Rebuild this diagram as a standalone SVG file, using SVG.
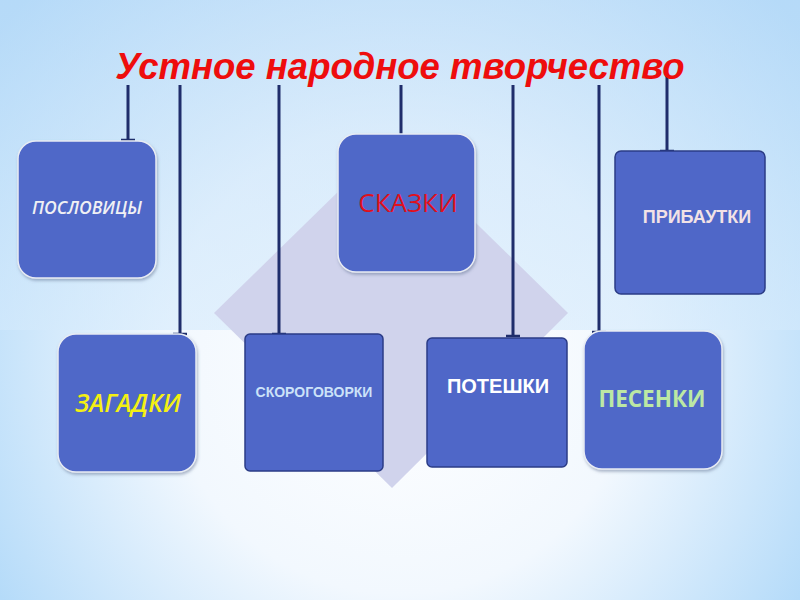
<svg xmlns="http://www.w3.org/2000/svg" width="800" height="600" viewBox="0 0 800 600">
<defs>
<radialGradient id="bg" cx="400" cy="360" r="520" gradientUnits="userSpaceOnUse">
<stop offset="0" stop-color="#ffffff"/>
<stop offset="0.45" stop-color="#f2f8fe"/>
<stop offset="1" stop-color="#a6d4f8"/>
</radialGradient>
<linearGradient id="band" x1="0" y1="0" x2="0" y2="1">
<stop offset="0" stop-color="#c0def8" stop-opacity="0.6"/>
<stop offset="1" stop-color="#d4eafc" stop-opacity="0.6"/>
</linearGradient>
<filter id="sh" x="-10%" y="-10%" width="120%" height="120%">
<feDropShadow dx="1" dy="2" stdDeviation="1.5" flood-color="#607090" flood-opacity="0.5"/>
</filter>
</defs>
<style>
.round{fill:#4f67c8;stroke:#e8ecf4;stroke-width:1.5;filter:url(#sh)}
.sq{fill:#4f67c8;stroke:#2b3c86;stroke-width:1.5}
.ln{stroke:#1f2d6b;stroke-width:3;fill:none}
.cap{stroke:#1f2d6b;stroke-width:2.5;fill:none}
text{text-anchor:middle}
</style>
<rect width="800" height="600" fill="url(#bg)"/>
<rect width="800" height="330" fill="url(#band)"/>
<polygon points="391,140 568,313 392,488 214,313" fill="#d0d3ec"/>
<g id="connectors">
<path class="ln" d="M128 85V140M180 85V334M279 85V334M401 85V137M513 85V336M599 85V332M667 76V151"/>
<path class="cap" d="M121 140H135M173 334H187M272 334H286M394 137H408M506 336H520M592 332H606M660 151H674"/>
</g>
<text x="400" y="79" font-family="Liberation Sans, Arial, sans-serif" font-size="36.5" font-weight="bold" font-style="italic" fill="#ee0d0d">Устное народное творчество</text>
<g id="poslovitsy">
<rect class="round" x="18" y="141" width="138" height="137" rx="18"/>
<text x="87" y="214" font-family="Open Sans, sans-serif" font-size="17.5" font-weight="600" font-style="italic" fill="#f0f0f4">ПОСЛОВИЦЫ</text>
</g>
<g id="skazki">
<rect class="round" x="338" y="134" width="137" height="138" rx="18"/>
<text x="408" y="212" font-family="Open Sans, sans-serif" font-size="26" fill="#e0101c">СКАЗКИ</text>
</g>
<g id="pribautki">
<rect class="sq" x="615" y="151" width="150" height="143" rx="6"/>
<text x="697" y="223" font-family="Liberation Sans, Arial, sans-serif" font-size="18" font-weight="bold" fill="#f2e2e6">ПРИБАУТКИ</text>
</g>
<g id="zagadki">
<rect class="round" x="58" y="334" width="138" height="138" rx="18"/>
<text x="128" y="412" font-family="Open Sans, sans-serif" font-size="25" font-weight="600" font-style="italic" fill="#f4f012">ЗАГАДКИ</text>
</g>
<g id="skorogovorki">
<rect class="sq" x="245" y="334" width="138" height="137" rx="5"/>
<text x="314" y="397" font-family="Liberation Sans, Arial, sans-serif" font-size="14" font-weight="bold" fill="#cce2f8">СКОРОГОВОРКИ</text>
</g>
<g id="poteshki">
<rect class="sq" x="427" y="338" width="140" height="129" rx="5"/>
<text x="498" y="393" font-family="Liberation Sans, Arial, sans-serif" font-size="20" font-weight="bold" fill="#ffffff">ПОТЕШКИ</text>
</g>
<g id="pesenki">
<rect class="round" x="584" y="331" width="138" height="138" rx="18"/>
<text x="652" y="407" font-family="Open Sans, sans-serif" font-size="22.5" font-weight="bold" fill="#bce8a4">ПЕСЕНКИ</text>
</g>
</svg>
